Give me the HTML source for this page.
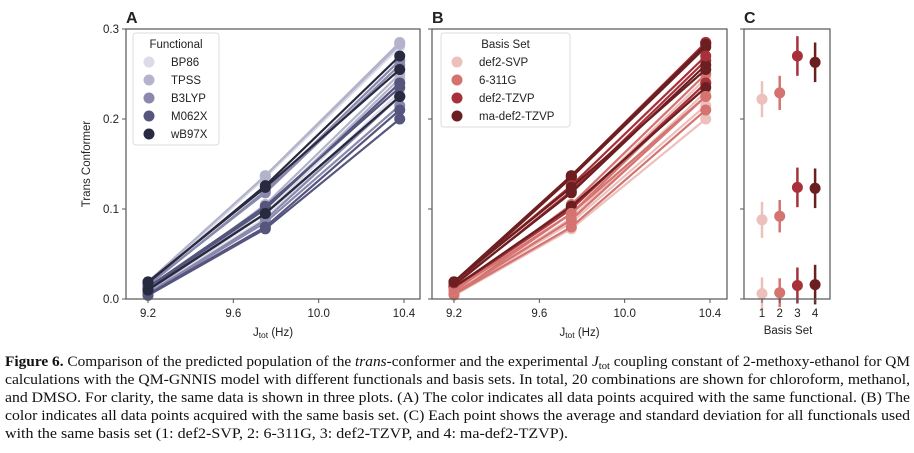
<!DOCTYPE html>
<html><head><meta charset="utf-8"><style>
html,body{margin:0;padding:0;background:#fff;width:914px;height:453px;overflow:hidden}
svg text{font-family:"Liberation Sans",sans-serif}
.cap{font-family:"Liberation Serif",serif;font-size:14.5px;fill:#111}
</style></head><body>
<svg id="fig" width="914" height="453" xmlns="http://www.w3.org/2000/svg">
<g id="axA"></g>
<g id="axB"></g>
<g id="axC"></g>
<g>
<text class="cap" x="5" y="366" textLength="905" lengthAdjust="spacingAndGlyphs"><tspan font-weight="bold">Figure 6.</tspan> Comparison of the predicted population of the <tspan font-style="italic">trans</tspan>-conformer and the experimental <tspan font-style="italic">J</tspan><tspan font-size="10" dy="3">tot</tspan><tspan dy="-3"> coupling constant of 2-methoxy-ethanol for QM</tspan></text>
<text class="cap" x="5" y="384" textLength="905" lengthAdjust="spacingAndGlyphs">calculations with the QM-GNNIS model with different functionals and basis sets. In total, 20 combinations are shown for chloroform, methanol,</text>
<text class="cap" x="5" y="402" textLength="905" lengthAdjust="spacingAndGlyphs">and DMSO. For clarity, the same data is shown in three plots. (A) The color indicates all data points acquired with the same functional. (B) The</text>
<text class="cap" x="5" y="420" textLength="905" lengthAdjust="spacingAndGlyphs">color indicates all data points acquired with the same basis set. (C) Each point shows the average and standard deviation for all functionals used</text>
<text class="cap" x="5" y="438" textLength="563" lengthAdjust="spacingAndGlyphs">with the same basis set (1: def2-SVP, 2: 6-311G, 3: def2-TZVP, and 4: ma-def2-TZVP).</text>
</g>
</svg>
<script>
const solventJ = [9.2, 9.75, 10.38];
const functionals = ["BP86","TPSS","B3LYP","M062X","wB97X"];
const basisSets = ["def2-SVP","6-311G","def2-TZVP","ma-def2-TZVP"];
const xTicks = [9.2, 9.6, 10.0, 10.4];
const yTicks = [0.0, 0.1, 0.2, 0.3];
const cTicks = [1, 2, 3, 4];
// values[functional][basis] = [chloroform, methanol, DMSO]
const bp86 = [[0.005,0.090,0.230],[0.006,0.095,0.240],[0.016,0.135,0.285],[0.017,0.135,0.280]];
const tpss = [[0.007,0.100,0.245],[0.008,0.105,0.250],[0.019,0.137,0.285],[0.019,0.137,0.283]];
const b3lyp = [[0.006,0.085,0.215],[0.006,0.088,0.225],[0.015,0.120,0.265],[0.016,0.118,0.260]];
const m062x = [[0.004,0.078,0.200],[0.005,0.080,0.210],[0.012,0.100,0.240],[0.013,0.103,0.235]];
const wb97x = [[0.010,0.095,0.225],[0.010,0.095,0.225],[0.018,0.126,0.270],[0.019,0.124,0.255]];
const values = [bp86, tpss, b3lyp, m062x, wb97x];
// panel C: per-basis means and std devs for each solvent (chloroform, methanol, DMSO)
const cMeanChloroform = [0.006, 0.007, 0.015, 0.016];
const cMeanMethanol = [0.088, 0.092, 0.124, 0.123];
const cMeanDMSO = [0.222, 0.229, 0.270, 0.263];
const cSdChloroform = [0.018, 0.016, 0.020, 0.022];
const cSdMethanol = [0.020, 0.018, 0.022, 0.022];
const cSdDMSO = [0.020, 0.019, 0.022, 0.022];

const fColors = ["#dcdbe8","#b4b3cc","#8a88ad","#56557e","#282a40"];
const bColors = ["#ecc0bc","#d47370","#a8303a","#6b1f20"];
const NS="http://www.w3.org/2000/svg";
function el(tag, attrs, parent){const e=document.createElementNS(NS,tag);for(const k in attrs)e.setAttribute(k,attrs[k]);parent.appendChild(e);return e;}
const Y0=299, Y1=29;
const yS = v => Y0 - (v/0.3)*(Y0-Y1);
function frame(g,x0,x1,letter){
  const r=el('rect',{x:x0,y:Y1,width:x1-x0,height:Y0-Y1,fill:'none',stroke:'#555','stroke-width':1.2},g);
  
  
  const t=el('text',{x:x0,y:23,'font-size':16,'font-weight':'bold',fill:'#222'},g);t.textContent=letter;
  
  
}
function lineAx(id,x0,x1,colorBy,legendTitle,legendNames,colors,lx,lw,showY){
  const g=document.getElementById(id);
  const xS = v => 148 + (x0-126) + (v-9.2)/1.2*256;
  for(let f=0;f<5;f++)for(let b=0;b<4;b++){
    const c = colorBy==='f'?colors[f]:colors[b];
    const pts = values[f][b].map((v,i)=>xS(solventJ[i])+','+yS(v)).join(' ');
    const pl=el('polyline',{points:pts,fill:'none',stroke:c,'stroke-width':2.2},g);
    
    
    values[f][b].forEach((v,i)=>{
      const m=el('circle',{cx:xS(solventJ[i]),cy:yS(v),r:5.5,fill:c},g);
      
      
    });
  }
  frame(g,x0,x1,id==='axA'?'A':'B');
  xTicks.forEach(t=>{
    const x=xS(t);
    el('line',{x1:x,x2:x,y1:Y0,y2:Y0+4,stroke:'#555'},g);
    const tx=el('text',{x:x,y:Y0+18,'font-size':11.5,'text-anchor':'middle',fill:'#222'},g);tx.textContent=t.toFixed(1);
    
    
  });
  const xl=el('text',{x:(x0+x1)/2,y:336,'font-size':11.5,'text-anchor':'middle',fill:'#222'},g);
  xl.innerHTML='J<tspan font-size="8.5" dy="2">tot</tspan><tspan dy="-2"> (Hz)</tspan>';
  
  
  yTicks.forEach(t=>{
    const y=yS(t);
    el('line',{x1:x0-4,x2:x0,y1:y,y2:y,stroke:'#555'},g);
    if(showY){const ty=el('text',{x:x0-7,y:y+4,'font-size':11.5,'text-anchor':'end',fill:'#222'},g);ty.textContent=t.toFixed(1);
      
      }
  });
  if(showY){const yl=el('text',{x:0,y:0,'font-size':11.5,'text-anchor':'middle',fill:'#222',transform:'translate(90,164) rotate(-90)'},g);yl.textContent='Trans Conformer';
    
    }
  const lg=el('g',{},g);
  
  
  const n=legendNames.length;
  el('rect',{x:lx,y:33,width:lw,height:22+n*18,rx:3,fill:'#fff','fill-opacity':0.85,stroke:'#ddd'},lg);
  const tt=el('text',{x:lx+lw/2,y:48,'font-size':11.5,'text-anchor':'middle',fill:'#222'},lg);tt.textContent=legendTitle;
  legendNames.forEach((nm,i)=>{
    const y=62+i*18;
    el('circle',{cx:lx+16,cy:y,r:5.5,fill:colors[i]},lg);
    const t=el('text',{x:lx+38,y:y+4,'font-size':11.5,fill:'#222'},lg);t.textContent=nm;
    
    
  });
}
lineAx('axA',126,420,'f','Functional',functionals,fColors,133,86,true);
lineAx('axB',432,727,'b','Basis Set',basisSets,bColors,441,129,false);

(function(){
  const g=document.getElementById('axC');
  const x0=744,x1=830;
  const xS = k => 762 + (k-1)*17.7;
  const means=[cMeanChloroform,cMeanMethanol,cMeanDMSO];
  const sds=[cSdChloroform,cSdMethanol,cSdDMSO];
  for(let b=0;b<4;b++){
    for(let s=0;s<3;s++){
      const mean=means[s][b], sd=sds[s][b];
      const x=xS(cTicks[b]);
      const e=el('line',{x1:x,x2:x,y1:yS(mean-sd),y2:yS(mean+sd),stroke:bColors[b],'stroke-width':2.5},g);
      
      
      const c=el('circle',{cx:x,cy:yS(mean),r:5.5,fill:bColors[b]},g);
      
      
    }
  }
  frame(g,x0,x1,'C');
  cTicks.forEach(t=>{
    const x=xS(t);
    el('line',{x1:x,x2:x,y1:Y0,y2:Y0+4,stroke:'#555'},g);
    const tx=el('text',{x:x,y:Y0+18,'font-size':11.5,'text-anchor':'middle',fill:'#222'},g);tx.textContent=t;
    
    
  });
  yTicks.forEach(t=>{el('line',{x1:x0-4,x2:x0,y1:yS(t),y2:yS(t),stroke:'#555'},g);});
  const xl=el('text',{x:788,y:334,'font-size':11.5,'text-anchor':'middle',fill:'#222'},g);xl.textContent='Basis Set';
  
  
})();
</script>
</body></html>
